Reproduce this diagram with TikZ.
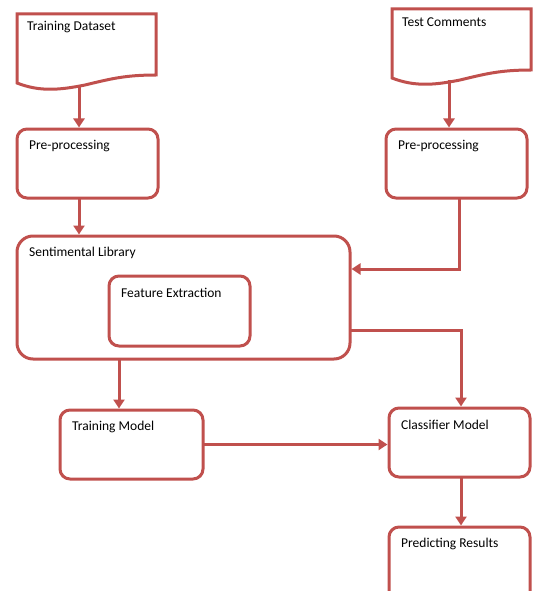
\documentclass[tikz,border=0pt]{standalone}
\usepackage{fontspec}
\setmainfont{Carlito}
\usepackage{xcolor}
\usetikzlibrary{arrows.meta,calc}
\definecolor{boxred}{HTML}{C0504D}

\begin{document}
\begin{tikzpicture}[x=1pt,y=-1pt,
    box/.style={draw=boxred,line width=3pt,rounded corners=10pt,minimum width=141pt,minimum height=69pt,inner sep=0pt,outer sep=0pt},
    doc/.style={minimum width=139pt,minimum height=66pt,inner sep=0pt,outer sep=0pt},
    wave/.style={draw=boxred,line width=3pt,line join=miter},
    arr/.style={draw=boxred,line width=3pt,shorten >=1.5pt,-{Triangle[length=9pt,width=11pt]}},
    txt/.style={anchor=west,inner sep=0pt,text=black,font=\fontsize{13.5}{16}\selectfont},
    inbox/.style={txt,xshift=12pt,yshift=-17pt},
    indoc/.style={txt,xshift=10pt,yshift=-13pt}]
                        \useasboundingbox (0,0) rectangle (533,591);
                        % input documents
                        \node[doc,label={[indoc]north west:Training Dataset}] (train) at (86.5,47) {};
                        \node[doc,label={[indoc]north west:Test Comments}] (test) at (461.5,42) {};
                        \foreach \d in {train,test}
                            \draw[wave] (\d.north west) -- (\d.north east) -- ($(\d.south east)+(0,-5)$)
                                .. controls ($(\d.south east)+(-31,-5)$) and ($(\d.south west)+(93,-1)$) .. ($(\d.south west)+(68,5)$)
                                .. controls ($(\d.south west)+(43,10)$) and ($(\d.south west)+(23,12)$) .. ($(\d.south west)+(0,3)$) -- cycle;
                        % boxes
                        \node[box,label={[inbox]north west:Pre-processing}] (pre1) at (87.5,163.5) {};
                        \node[box,label={[inbox]north west:Pre-processing}] (pre2) at (456.5,163.5) {};
                        \node[box,rounded corners=16pt,minimum width=333pt,minimum height=123pt,
                              label={[inbox]north west:Sentimental Library}] (lib) at (183.5,297.5) {};
                        \node[box,minimum height=70pt,label={[inbox]north west:Feature Extraction}] (feat) at (179.5,311) {};
                        \node[box,minimum width=143pt,label={[inbox]north west:Training Model}] (tm) at (131.5,444.5) {};
                        \node[box,label={[inbox]north west:Classifier Model}] (clf) at (459.5,442.5) {};
                        \node[box,minimum height=75pt,label={[inbox]north west:Predicting Results}] (pred) at (459.5,564.5) {};
                        % arrows
                        \draw[arr] ($(train.south west)+(62,6)$) -- ($(pre1.north west)+(62,0)$);
                        \draw[arr] ($(test.south west)+(57,5)$) -- ($(pre2.north west)+(63,0)$);
                        \draw[arr] ($(pre1.south west)+(62,0)$) -- ($(lib.north west)+(62,0)$);
                        \draw[arr] ($(pre2.south west)+(73,0)$) |- ($(lib.north east)+(0,33)$);
                        \draw[arr] ($(lib.north east)+(0,94)$) -| ($(clf.north west)+(72,0)$);
                        \draw[arr] ($(lib.south west)+(102,0)$) -- ($(tm.north west)+(59,0)$);
                        \draw[arr] (tm.east) -- (tm.east -| clf.west);
                        \draw[arr] ($(clf.south west)+(72,0)$) -- ($(pred.north west)+(72,0)$);
                \end{tikzpicture}
\end{document}
